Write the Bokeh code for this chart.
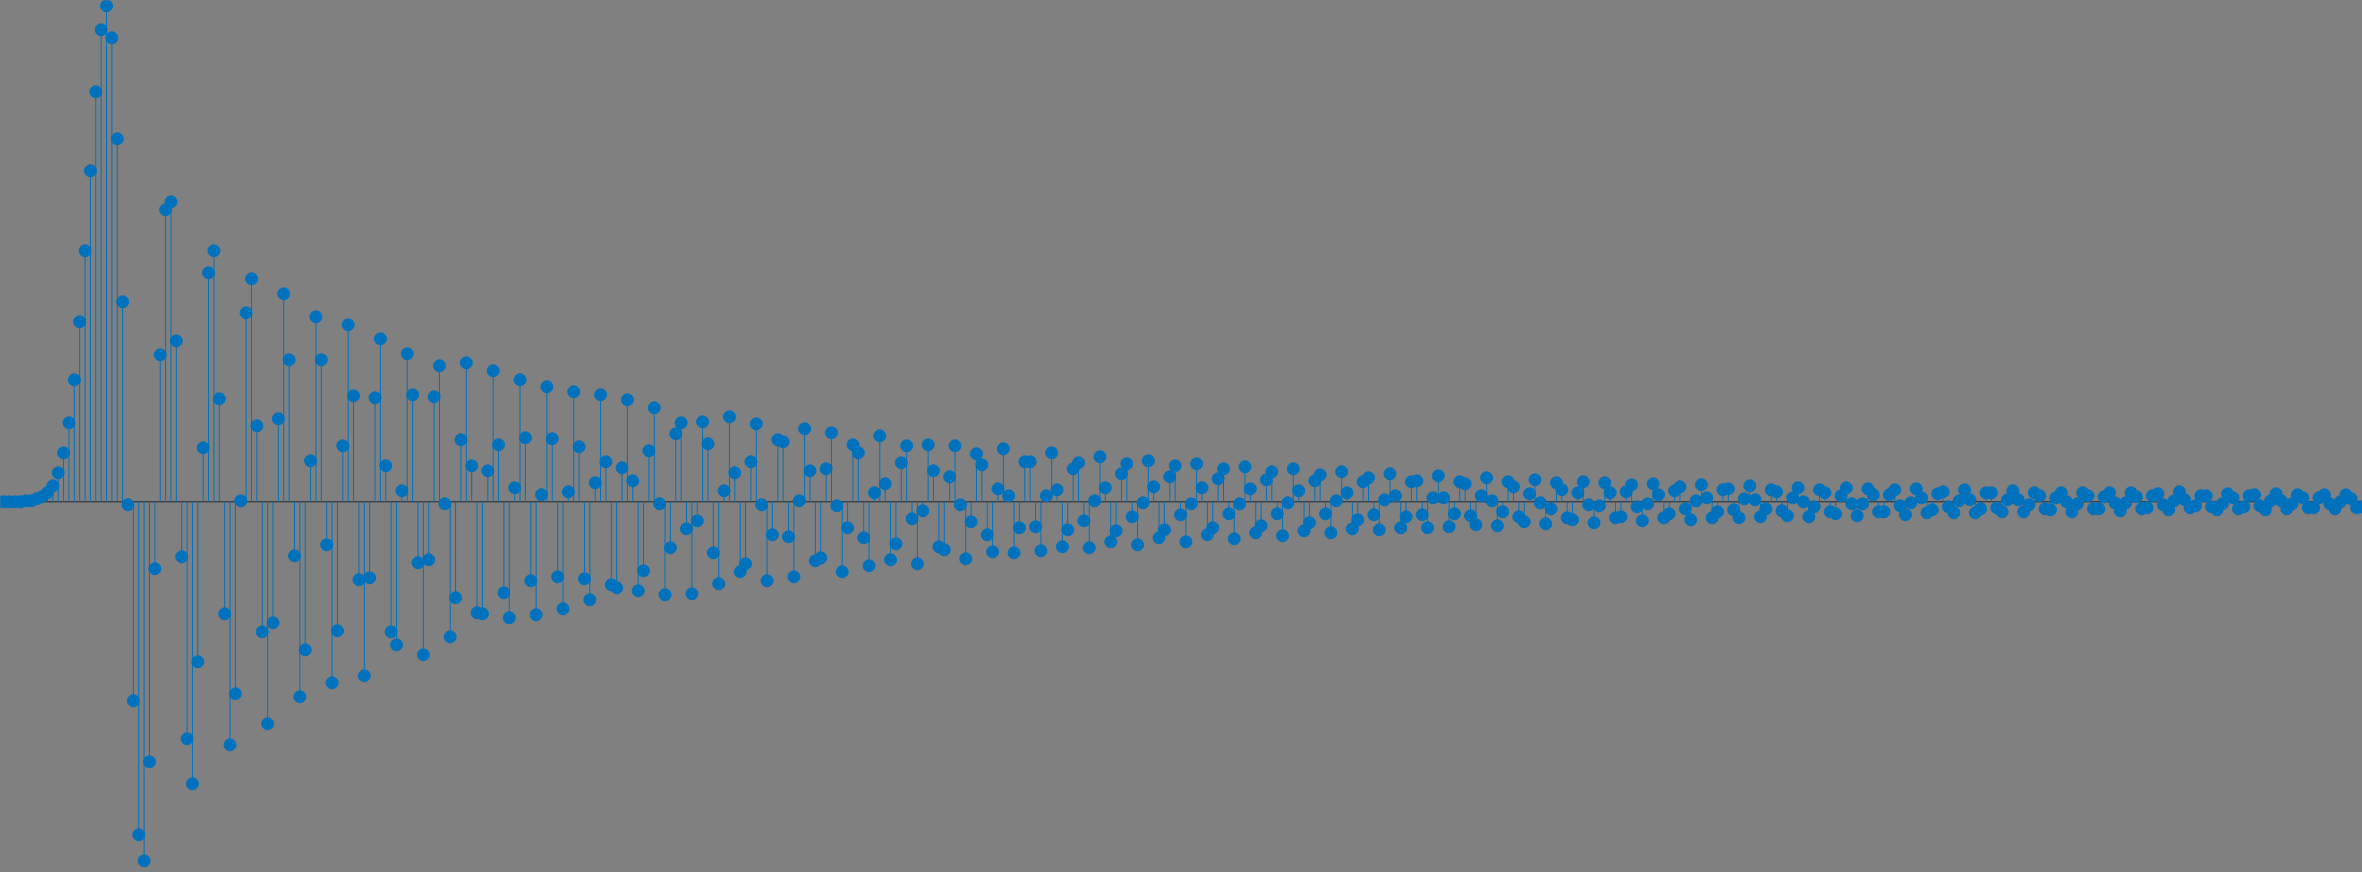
from bokeh.plotting import figure
from bokeh.models import Range1d, Span, ColumnDataSource
from bokeh.embed import file_html
from bokeh.resources import INLINE

# Stem-plot samples (arbitrary amplitude units), index 0..440
onset = [0, 0, 0, 0, 0, 1, 1, 3, 5, 9,
         16, 29, 49, 79, 122, 180, 251, 331, 410, 472,
         496, 464, 363, 200, -3, -199, -333, -359, -260, -67,
         147, 292, 300, 161, -55, -237, -282, -160, 54, 229,
         251, 103, -112, -243, -192, 1, 189, 223, 76, -130]
decay_a = [-222, -121, 83, 208, 142, -54, -195, -148, 41, 185,
           142, -43, -181, -129, 56, 177, 106, -78, -174, -76,
           104, 163, 36, -130, -143, 11, 148, 107, -61, -153,
           -58, 105, 136, -2, -135, -96, 62, 139, 36, -111,
           -112, 31, 131, 57, -91, -116, 14, 122, 64, -79]
decay_b = [-113, 7, 115, 63, -75, -107, 10, 110, 55, -77,
           -98, 19, 107, 40, -83, -86, 34, 102, 21, -89,
           -69, 51, 94, -2, -93, -46, 68, 79, -27, -92,
           -19, 80, 58, -51, -82, 11, 85, 29, -70, -62,
           40, 78, -3, -79, -33, 62, 60, -35, -75, 1]
decay_c = [73, 31, -59, -56, 33, 69, -4, -70, -26, 57,
           49, -36, -64, 9, 66, 18, -58, -42, 39, 56,
           -17, -62, -9, 57, 31, -45, -48, 25, 56, -3,
           -57, -20, 48, 37, -33, -50, 13, 53, 6, -51,
           -26, 40, 40, -25, -49, 6, 49, 12, -45, -28]
decay_d = [33, 39, -19, -46, 1, 45, 14, -40, -29, 28,
           38, -15, -43, -1, 41, 15, -36, -28, 25, 36,
           -13, -40, -2, 38, 14, -33, -26, 23, 33, -12,
           -37, -2, 35, 13, -31, -24, 22, 30, -12, -34,
           -1, 33, 11, -29, -21, 21, 27, -12, -31, 1]
decay_e = [30, 9, -27, -18, 20, 24, -13, -28, 2, 28,
           6, -26, -15, 20, 21, -13, -26, 4, 26, 4,
           -25, -12, 20, 18, -14, -23, 6, 24, 1, -24,
           -10, 20, 15, -15, -20, 8, 22, -1, -22, -7,
           19, 12, -16, -18, 9, 20, -3, -21, -4, 19]
decay_f = [9, -16, -15, 10, 17, -5, -19, -2, 18, 7,
           -16, -12, 11, 15, -7, -18, 1, 17, 4, -16,
           -10, 12, 13, -8, -16, 3, 16, 2, -15, -7,
           12, 10, -9, -14, 4, 14, 0, -15, -5, 12,
           9, -10, -12, 6, 14, -2, -14, -2, 13, 7]
decay_g = [-10, -10, 7, 12, -4, -13, -1, 13, 4, -11,
           -8, 8, 10, -5, -11, 1, 12, 2, -11, -7,
           9, 9, -6, -10, 2, 11, 2, -10, -3, 9,
           6, -7, -8, 4, 9, 0, -10, -2, 9, 6,
           -7, -7, 5, 9, -1, -9, -1, 9, 5, -7]
tail = [-6, 6, 8, -3, -8, 1, 10, 2, -6, -4,
        6, 6, -5, -8, -2, 8, 4, -7, -5, 6,
        7, -4, -8, 1, 8, 1, -7, -2, 7, 4,
        -6, -6, 4, 7, -2, -7, 0, 7, 3, -6,
        -5]

amplitude = onset + decay_a + decay_b + decay_c + decay_d + decay_e + decay_f + decay_g + tail
sample_index = list(range(len(amplitude)))

STEM_COLOR = "#0072BD"

src = ColumnDataSource(data=dict(
    x=sample_index,
    y=amplitude,
    base=[0] * len(amplitude),
))

p = figure(width=2362, height=872, output_backend="svg", toolbar_location=None,
           x_range=Range1d(0.255, 440.1), y_range=Range1d(-370.7, 501.3),
           x_axis_type=None, y_axis_type=None,
           min_border=0, min_border_left=0, min_border_right=0,
           min_border_top=0, min_border_bottom=0,
           background_fill_color="#808080", border_fill_color="#808080",
           outline_line_color=None)
p.grid.visible = False

baseline = Span(location=0, dimension="width", line_color="#262626",
                line_width=1, level="underlay")
p.add_layout(baseline)

p.segment(x0="x", y0="base", x1="x", y1="y", source=src,
          line_color=STEM_COLOR, line_width=1)
p.scatter(x="x", y="y", source=src, size=12, marker="circle",
          fill_color=STEM_COLOR, line_color=STEM_COLOR)

html = file_html(p, INLINE)
html = html.replace("<head>", "<head><style>html,body{margin:0;padding:0;background:#808080;overflow:hidden;}</style>", 1)
open("out.html", "w").write(html)
